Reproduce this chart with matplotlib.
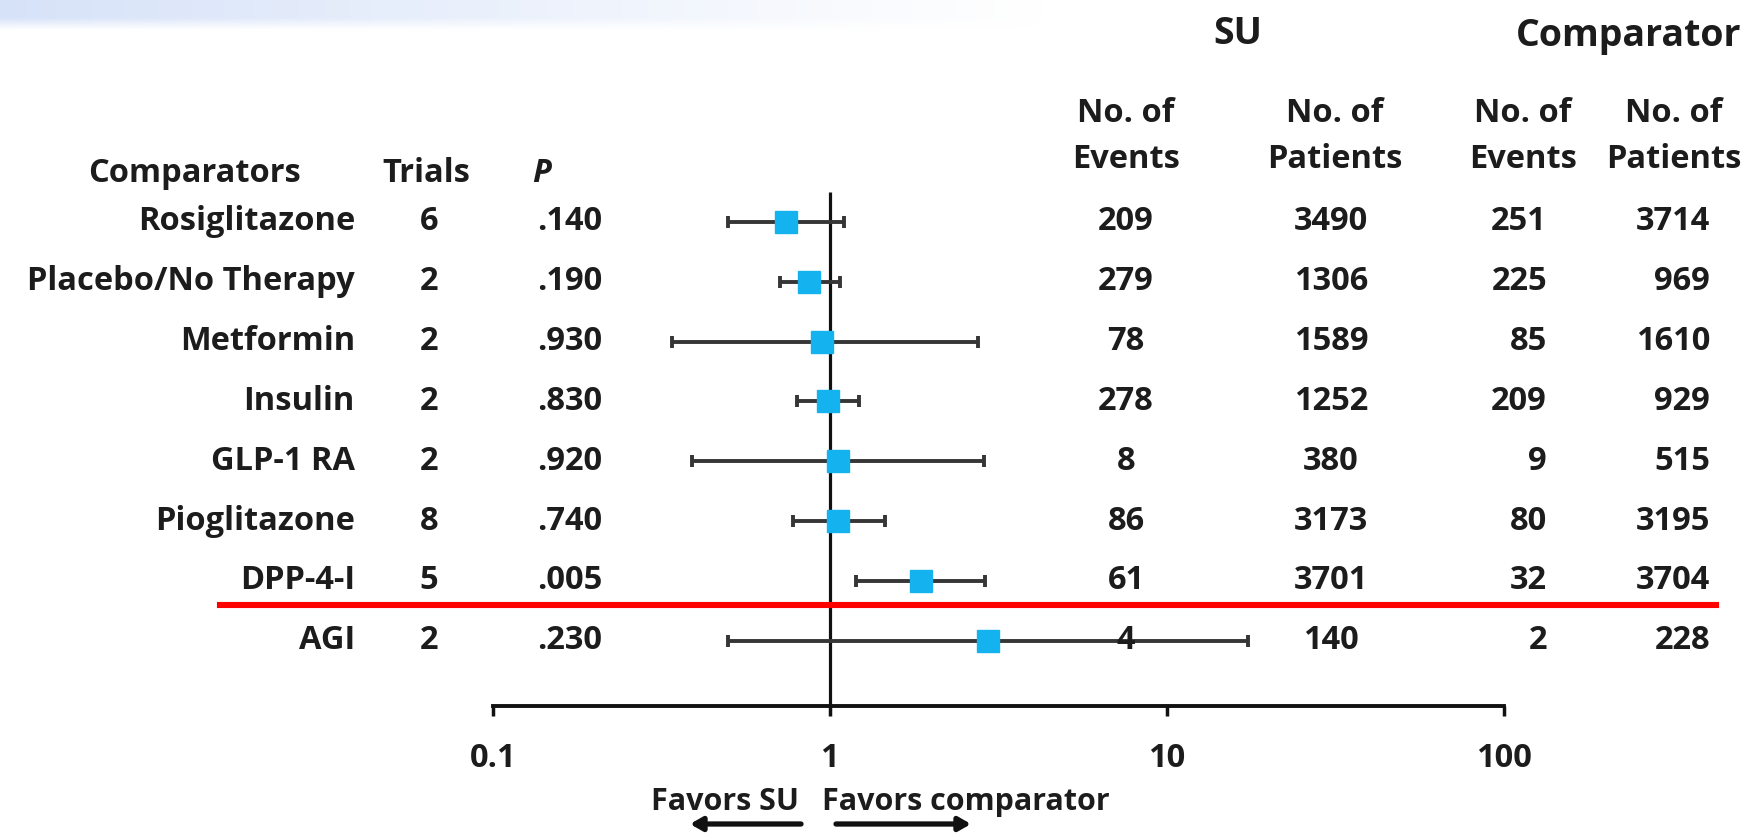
import numpy as np
import matplotlib
matplotlib.use("Agg")
import matplotlib.pyplot as plt
from matplotlib.transforms import blended_transform_factory
from matplotlib.lines import Line2D

# ---- data -------------------------------------------------------------
comparators = ["Rosiglitazone", "Placebo/No Therapy", "Metformin", "Insulin",
               "GLP-1 RA", "Pioglitazone", "DPP-4-I", "AGI"]
trials = [6, 2, 2, 2, 2, 8, 5, 2]
p_values = [".140", ".190", ".930", ".830", ".920", ".740", ".005", ".230"]
odds_ratio = [0.74, 0.87, 0.95, 0.99, 1.06, 1.06, 1.87, 2.95]
ci_low = [0.50, 0.71, 0.34, 0.80, 0.39, 0.78, 1.20, 0.50]
ci_high = [1.10, 1.07, 2.75, 1.22, 2.87, 1.46, 2.89, 17.4]
su_events = [209, 279, 78, 278, 8, 86, 61, 4]
su_patients = [3490, 1306, 1589, 1252, 380, 3173, 3701, 140]
comp_events = [251, 225, 85, 209, 9, 80, 32, 2]
comp_patients = [3714, 969, 1610, 929, 515, 3195, 3704, 228]
tick_values = [0.1, 1, 10, 100]
tick_labels = ["0.1", "1", "10", "100"]

# ---- style ------------------------------------------------------------
W, H, DPI = 1752, 833, 100
FONT = "Open Sans"
FS = 23.5
FS_GROUP = 27
FS_FAVORS = 22
TXT = "#1c1c1c"
plt.rcParams["font.family"] = [FONT, "DejaVu Sans"]
plt.rcParams["font.weight"] = "bold"

fig = plt.figure(figsize=(W / DPI, H / DPI), dpi=DPI)
fig.patch.set_facecolor("white")

# soft blue band along the top edge
band = fig.add_axes([0, 1 - 32 / H, 1, 32 / H], zorder=0)
band.axis("off")
gx = np.linspace(0, 1, 400)
gy = np.linspace(0, 1, 32)
alpha_x = np.clip(1 - gx / 0.6, 0, 1) ** 1.1
alpha_y = np.clip((gy - 0.05) / 0.4, 0, 1)
alpha = np.outer(alpha_y, alpha_x) * 0.8
rgba = np.zeros((32, 400, 4))
rgba[..., 0] = 0.80
rgba[..., 1] = 0.86
rgba[..., 2] = 0.97
rgba[..., 3] = alpha
band.imshow(rgba, aspect="auto", origin="lower", extent=[0, 1, 0, 1])

# main axes covers the whole figure; x is a log scale of odds ratio
ax = fig.add_axes([0, 0, 1, 1], zorder=1)
ax.patch.set_alpha(0)
px0, decade = 492.7, 337.1          # pixel of 0.1 and pixels per decade
xmin = 10 ** (-1 - px0 / decade)
xmax = 10 ** (-1 + (W - px0) / decade)
ax.set_xscale("log")
ax.set_xlim(xmin, xmax)

row0, step = 222.0, 59.8            # pixel of first row and row spacing
ax.set_ylim((H - row0) / step, -row0 / step)

def ypix(p):
    return (p - row0) / step

n = len(comparators)
rows = np.arange(n)

# reference line at 1
ax.vlines(1, ypix(192), ypix(706), color="#111111", lw=2.3, zorder=2)

# confidence intervals and point estimates
or_arr = np.array(odds_ratio)
xerr = [or_arr - np.array(ci_low), np.array(ci_high) - or_arr]
ax.errorbar(or_arr, rows, xerr=xerr, fmt="none", ecolor="#363636",
            elinewidth=2.8, capsize=4.5, capthick=2.8, zorder=3)
ax.plot(or_arr, rows, "s", ms=15.5, color="#14b3ef", mec="#14b3ef", zorder=4)

# bottom axis with log ticks
for s in ["top", "left", "right"]:
    ax.spines[s].set_visible(False)
ax.spines["bottom"].set_position(("data", ypix(706)))
ax.spines["bottom"].set_bounds(0.1, 100)
ax.spines["bottom"].set_linewidth(2.8)
ax.spines["bottom"].set_color("#111111")
ax.set_xticks(tick_values)
ax.set_xticklabels(tick_labels)
ax.xaxis.set_minor_locator(matplotlib.ticker.NullLocator())
ax.tick_params(axis="x", direction="out", length=7, width=2.5, color="#111111",
               pad=19, labelsize=FS, labelcolor=TXT)
ax.set_yticks([])

# text columns: x in figure fraction, y in row units
tr = blended_transform_factory(fig.transFigure, ax.transData)

def put(x_px, y, s, ha="center", **kw):
    ax.text(x_px / W, y, s, transform=tr, ha=ha, va="center",
            fontsize=kw.pop("fontsize", FS), color=TXT, fontweight="bold", **kw)

hdr = ypix(173)
put(195, hdr, "Comparators")
put(426, hdr, "Trials")
put(532, hdr, "P", ha="left", style="italic")

put(1126, ypix(114), "No. of")
put(1126, ypix(160), "Events")
put(1335, ypix(114), "No. of")
put(1335, ypix(160), "Patients")
put(1523, ypix(114), "No. of")
put(1523, ypix(160), "Events")
put(1674, ypix(114), "No. of")
put(1674, ypix(160), "Patients")
put(1238, ypix(34), "SU", fontsize=FS_GROUP)
put(1629, ypix(36), "Comparator", fontsize=FS_GROUP)

for i in range(n):
    put(355, rows[i], comparators[i], ha="right")
    put(429, rows[i], str(trials[i]))
    put(570, rows[i], p_values[i])
    put(1126, rows[i], str(su_events[i]))
    put(1331, rows[i], str(su_patients[i]))
    put(1547, rows[i], str(comp_events[i]), ha="right")
    put(1710, rows[i], str(comp_patients[i]), ha="right")

# red separator line
ax.add_line(Line2D([220 / W, 1716 / W], [ypix(604.5)] * 2, transform=tr,
                   color="#ff0000", lw=4.4, zorder=5))

# direction labels and arrows
put(799, ypix(802), "Favors SU", ha="right", fontsize=FS_FAVORS)
put(822, ypix(802), "Favors comparator", ha="left", fontsize=FS_FAVORS)
arrow_kw = dict(arrowstyle="-|>,head_length=0.7,head_width=0.4", lw=3.8,
                color="#111111", shrinkA=0, shrinkB=0)
ax.annotate("", xy=(690 / W, ypix(824)), xytext=(801 / W, ypix(824)),
            xycoords=tr, textcoords=tr, arrowprops=arrow_kw)
ax.annotate("", xy=(971 / W, ypix(824)), xytext=(836 / W, ypix(824)),
            xycoords=tr, textcoords=tr, arrowprops=arrow_kw)

fig.savefig("out.png", dpi=DPI, facecolor="white")
